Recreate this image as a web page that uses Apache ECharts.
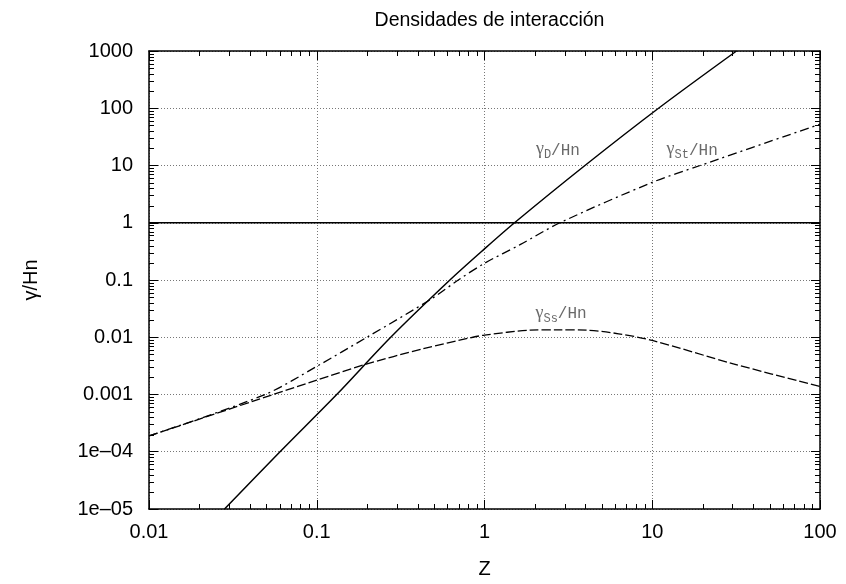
<!DOCTYPE html>
<html>
<head>
<meta charset="utf-8">
<script src="https://cdn.jsdelivr.net/npm/echarts@6/dist/echarts.min.js"></script>
<style>
  html, body { margin: 0; padding: 0; background: #fff; }
  #chart { width: 846px; height: 584px; }
</style>
</head>
<body>
<div id="chart"></div>
<script>
// Interaction densities (normalised by H·n) versus Z, log–log.

// γ_D / Hn  (solid)
const dZ = [0.0282, 0.0604, 0.1315, 0.276, 0.622, 1, 1.51, 3.97, 10.9, 31.8];
const dVal = [1e-5, 1e-4, 1e-3, 0.01, 0.1, 0.35, 1, 10, 100, 1000];

// γ_St / Hn  (dash-dot)
const stZ = [0.01, 0.0492, 0.1, 0.199, 0.484, 0.698, 1, 1.63, 2.82, 10, 19.3, 100];
const stVal = [1.89e-4, 1e-3, 3.1e-3, 0.01, 0.047, 0.1, 0.196, 0.414, 1, 5.08, 10, 52.7];

// γ_Ss / Hn  (dashed)
const ssZ = [0.01, 0.055, 0.1, 0.191, 0.431, 0.853, 1, 1.87, 2.75, 4.06, 6.3, 10, 30.4, 100];
const ssVal = [1.89e-4, 1e-3, 1.78e-3, 3.3e-3, 6.3e-3, 0.01, 0.0109, 0.0133, 0.0135, 0.0133, 0.0115, 0.0088, 0.00344, 0.00138];

// reference level γ/Hn = 1
const unityZ = [0.01, 100];
const unityVal = [1, 1];

// axis tick labels
const xTickLabels = ['0.01', '0.1', '1', '10', '100'];              // 1e-2 … 1e2
const yTickLabels = ['1e\u201305', '1e\u201304', '0.001', '0.01', '0.1', '1', '10', '100', '1000']; // 1e-5 … 1e3

// curve annotations: [z, γ/Hn, subscript]
const curveLabels = [
  [2.74, 20, 'D'],
  [17.3, 20, 'St'],
  [2.86, 0.0278, 'Ss']
];

const X_MIN = 0.01, X_MAX = 100, Y_MIN = 1e-5, Y_MAX = 1000;

// minor tick positions 2..9 × 10^k inside each decade
function minorTicks(lo, hi) {
  const out = [];
  for (let d = lo; d < hi * 0.999; d *= 10) {
    for (let m = 2; m <= 9; m++) out.push(d * m);
  }
  return out;
}
const xMinor = minorTicks(X_MIN, X_MAX);
const yMinor = minorTicks(Y_MIN, Y_MAX);

const pair = (xs, ys) => xs.map((x, i) => [x, ys[i]]);

const FONT = '"Liberation Sans", Arial, Helvetica, sans-serif';
const FS = 20;

function logLabel(labels, base) {
  return function (v) {
    const k = Math.round(Math.log10(v)) - base;
    return labels[k] !== undefined ? labels[k] : '';
  };
}

const commonLine = { show: true, lineStyle: { color: '#000', width: 1.5 } };
const majorTick = { show: true, inside: true, length: 9, lineStyle: { color: '#000', width: 1 } };

const chart = echarts.init(document.getElementById('chart'), null, { renderer: 'canvas' });

const option = {
  animation: false,
  backgroundColor: '#fff',
  title: {
    text: 'Densidades de interacción',
    left: 484.5,
    textAlign: 'center',
    top: 6,
    textStyle: { fontFamily: FONT, fontSize: 19.5, fontWeight: 'normal', color: '#000' }
  },
  grid: { left: 149, right: 26, top: 51, bottom: 73.5, containLabel: false },
  xAxis: [
    {
      type: 'log', logBase: 10, min: X_MIN, max: X_MAX, splitNumber: 4,
      position: 'bottom',
      name: 'Z', nameLocation: 'middle', nameGap: 50,
      nameTextStyle: { fontFamily: FONT, fontSize: FS, color: '#000' },
      axisLine: commonLine, axisTick: majorTick,
      axisLabel: { fontFamily: FONT, fontSize: FS, color: '#000', margin: 13, formatter: logLabel(xTickLabels, -2) },
      splitLine: { show: true, lineStyle: { color: '#777', width: 1, type: [1, 2] } }
    },
    {
      type: 'log', logBase: 10, min: X_MIN, max: X_MAX, splitNumber: 4,
      position: 'top',
      axisLine: commonLine, axisTick: majorTick,
      axisLabel: { show: false }, splitLine: { show: false }
    }
  ],
  yAxis: [
    {
      type: 'log', logBase: 10, min: Y_MIN, max: Y_MAX, splitNumber: 8,
      position: 'left',
      name: 'γ/Hn', nameLocation: 'middle', nameGap: 108, nameRotate: 90,
      nameTextStyle: { fontFamily: FONT, fontSize: FS, color: '#000' },
      axisLine: commonLine, axisTick: majorTick,
      axisLabel: { fontFamily: FONT, fontSize: FS, color: '#000', margin: 16, formatter: logLabel(yTickLabels, -5) },
      splitLine: { show: true, lineStyle: { color: '#777', width: 1, type: [1, 2] } }
    },
    {
      type: 'log', logBase: 10, min: Y_MIN, max: Y_MAX, splitNumber: 8,
      position: 'right',
      axisLine: commonLine, axisTick: majorTick,
      axisLabel: { show: false }, splitLine: { show: false }
    }
  ],
  series: [
    {
      name: 'unity', type: 'line', data: pair(unityZ, unityVal),
      showSymbol: false, silent: true,
      lineStyle: { color: '#000', width: 1.5, type: 'solid' }, z: 3
    },
    {
      name: 'γD/Hn', type: 'line', data: pair(dZ, dVal),
      showSymbol: false, smooth: 0.3, clip: true,
      lineStyle: { color: '#000', width: 1.5, type: 'solid' }, z: 3
    },
    {
      name: 'γSt/Hn', type: 'line', data: pair(stZ, stVal),
      showSymbol: false, smooth: 0.3, clip: true,
      lineStyle: { color: '#000', width: 1.3, type: [9, 4, 2, 4] }, z: 3
    },
    {
      name: 'γSs/Hn', type: 'line', data: pair(ssZ, ssVal),
      showSymbol: false, smooth: 0.3, clip: true,
      lineStyle: { color: '#000', width: 1.3, type: [9, 3] }, z: 3
    },
    {
      // curve annotations with subscripts
      name: 'labels', type: 'scatter', symbolSize: 0, silent: true, z: 4,
      data: curveLabels.map(c => ({ value: [c[0], c[1]], sub: c[2] })),
      label: {
        show: true, position: 'inside',
        formatter: p => '{g|γ}{s|' + p.data.sub + '}{t|/Hn}',
        rich: {
          g: { fontFamily: '"Liberation Serif", serif', fontSize: 18, color: '#444', lineHeight: 20, verticalAlign: 'bottom' },
          s: { fontFamily: '"Liberation Mono", monospace', fontSize: 12, color: '#444', lineHeight: 20, verticalAlign: 'bottom', padding: [0, 0, -3, 0] },
          t: { fontFamily: '"Liberation Mono", monospace', fontSize: 16, color: '#444', lineHeight: 20, verticalAlign: 'bottom' }
        }
      }
    },
    {
      // minor ticks on the bottom/top axes
      name: 'xMinor', type: 'custom', silent: true, z: 5,
      data: xMinor.map(v => [v, 1]),
      renderItem: function (params, api) {
        const cs = params.coordSys;
        const px = Math.round(api.coord([api.value(0), 1])[0]) + 0.5;
        const yb = cs.y + cs.height, yt = cs.y;
        const st = { stroke: '#000', lineWidth: 1 };
        return { type: 'group', children: [
          { type: 'line', shape: { x1: px, y1: yb, x2: px, y2: yb - 5 }, style: st },
          { type: 'line', shape: { x1: px, y1: yt, x2: px, y2: yt + 5 }, style: st }
        ] };
      }
    },
    {
      // minor ticks on the left/right axes
      name: 'yMinor', type: 'custom', silent: true, z: 5,
      data: yMinor.map(v => [1, v]),
      renderItem: function (params, api) {
        const cs = params.coordSys;
        const py = Math.round(api.coord([1, api.value(1)])[1]) + 0.5;
        const xl = cs.x, xr = cs.x + cs.width;
        const st = { stroke: '#000', lineWidth: 1 };
        return { type: 'group', children: [
          { type: 'line', shape: { x1: xl, y1: py, x2: xl + 5, y2: py }, style: st },
          { type: 'line', shape: { x1: xr, y1: py, x2: xr - 5, y2: py }, style: st }
        ] };
      }
    }
  ]
};

chart.setOption(option);
</script>
</body>
</html>
